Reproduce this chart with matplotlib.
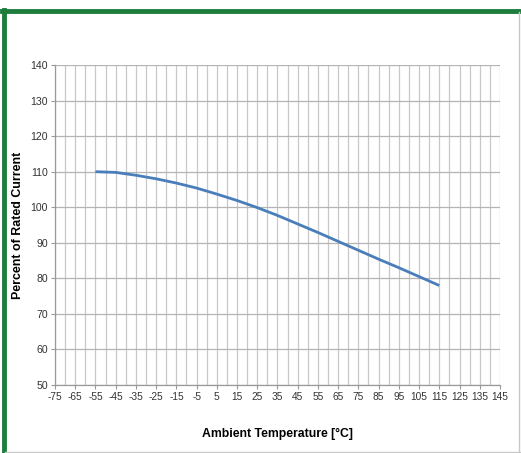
import matplotlib
matplotlib.use("Agg")
import matplotlib.pyplot as plt
from matplotlib.lines import Line2D

plt.rcParams["font.family"] = ["Liberation Sans", "DejaVu Sans"]
plt.rcParams["axes.unicode_minus"] = False

temps = [-55, -45, -35, -25, -15, -5, 5, 15, 25, 35, 45, 55, 65, 75, 85, 95, 105, 115]
percent = [110.0, 109.8, 109.0, 108.0, 106.8, 105.4, 103.7, 101.9, 99.9, 97.7, 95.3,
           92.9, 90.4, 87.9, 85.4, 83.0, 80.5, 78.0]
xticks = list(range(-75, 146, 10))
yticks = list(range(50, 141, 10))

fig = plt.figure(figsize=(5.21, 4.53), dpi=100)
ax = fig.add_axes([0.1056, 0.150, 0.854, 0.7065])

ax.plot(temps, percent, color="#4a7ebb", lw=2.0, solid_capstyle="butt", solid_joinstyle="round")

ax.set_xlim(-75, 145)
ax.set_ylim(50, 140)
ax.set_xticks(xticks)
ax.set_xticks(list(range(-70, 146, 10)), minor=True)
ax.set_yticks(yticks)
ax.grid(True, which="both", axis="x", color="#c8c8c8", lw=0.9)
ax.grid(True, which="major", axis="y", color="#b4b4b4", lw=0.9)
ax.set_axisbelow(True)
ax.tick_params(axis="both", which="major", labelsize=7.3, colors="#333333",
               length=3, width=0.8, color="#999999", pad=2)
ax.tick_params(axis="y", which="major", labelsize=7.6)
ax.tick_params(axis="x", which="minor", length=0)
for s in ["top", "right"]:
    ax.spines[s].set_visible(False)
for s in ["left", "bottom"]:
    ax.spines[s].set_color("#999999")
    ax.spines[s].set_linewidth(0.9)

ax.set_xlabel("Ambient Temperature [°C]", fontsize=8.8, fontweight="bold", labelpad=19)
ax.set_ylabel("Percent of Rated Current", fontsize=8.9, fontweight="bold", labelpad=5)

# outer frame
fig.add_artist(Line2D([0.008, 0.008], [0, 0.978], transform=fig.transFigure, color="#1e7d3c", lw=3.5))
fig.add_artist(Line2D([0.004, 1.0], [0.976, 0.976], transform=fig.transFigure, color="#1e7d3c", lw=3.5))
fig.add_artist(Line2D([0.996, 0.996], [0.0, 0.974], transform=fig.transFigure, color="#c8c8c8", lw=1.0))
fig.add_artist(Line2D([0.01, 1.0], [0.002, 0.002], transform=fig.transFigure, color="#c8c8c8", lw=1.0))

fig.savefig("out.png", dpi=100)
